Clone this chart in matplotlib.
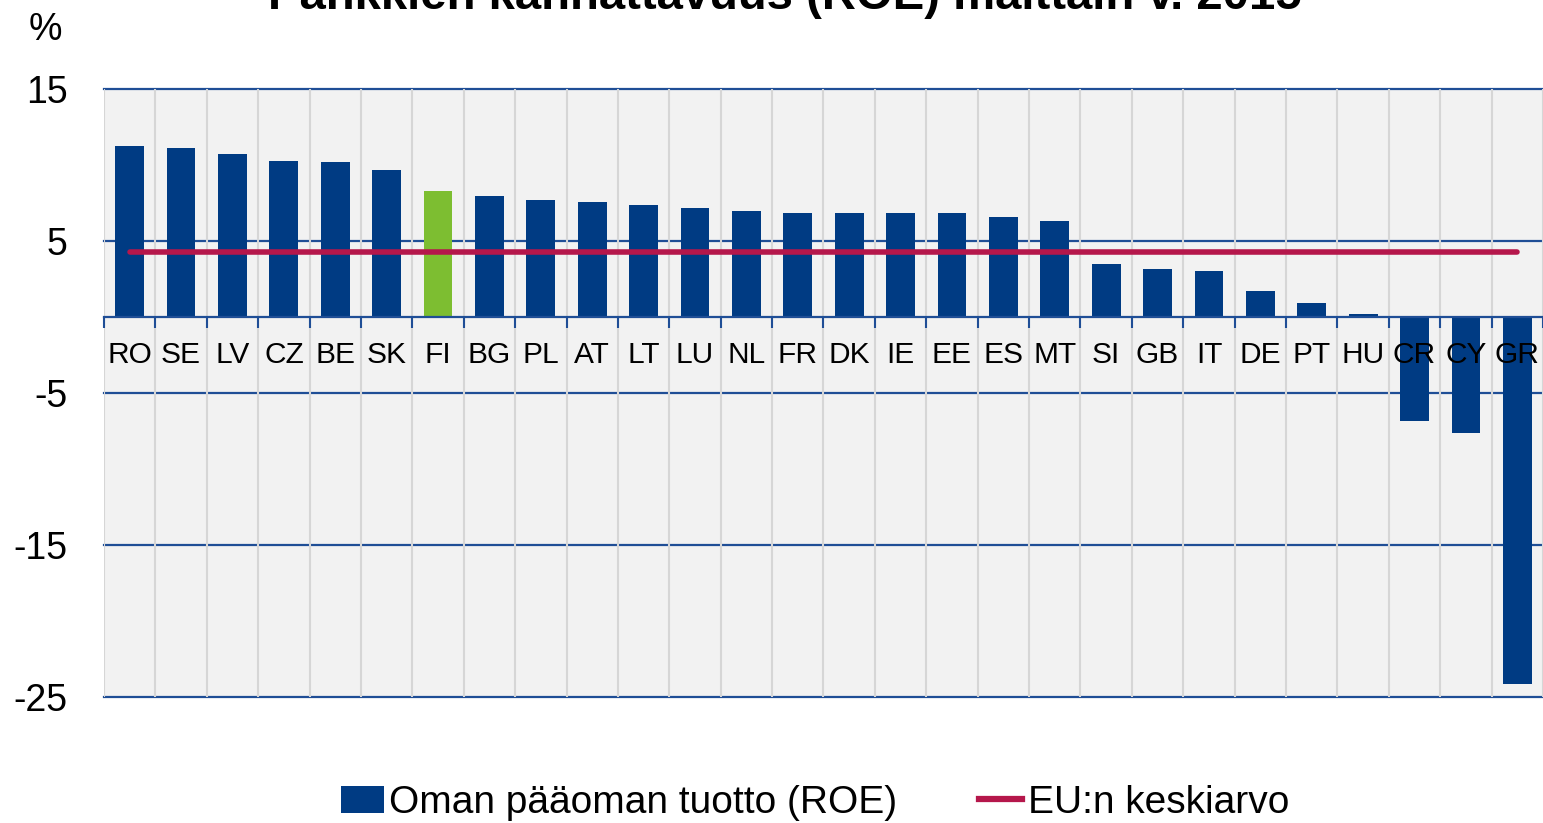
import matplotlib
matplotlib.use('Agg')
import matplotlib.pyplot as plt
from matplotlib.lines import Line2D
from matplotlib.patches import Patch
import numpy as np

plt.rcParams['font.family'] = ['Liberation Sans', 'DejaVu Sans']

countries = ['RO', 'SE', 'LV', 'CZ', 'BE', 'SK', 'FI', 'BG', 'PL', 'AT', 'LT', 'LU', 'NL', 'FR',
             'DK', 'IE', 'EE', 'ES', 'MT', 'SI', 'GB', 'IT', 'DE', 'PT', 'HU', 'CR', 'CY', 'GR']
roe = [11.25, 11.1, 10.7, 10.25, 10.2, 9.65, 8.3, 7.95, 7.7, 7.55, 7.4, 7.2, 7.0, 6.85,
       6.85, 6.85, 6.85, 6.6, 6.3, 3.5, 3.15, 3.05, 1.7, 0.9, 0.2, -6.85, -7.6, -24.15]
eu_avg = 4.3
highlight = 'FI'

blue = '#003B83'
green = '#7DBE31'
red = '#B5174B'
gridblue = '#1F4E96'

fig = plt.figure(figsize=(15.43, 8.23), dpi=100)
ax = fig.add_axes([104 / 1543, 1 - 697 / 823, 1 - 104 / 1543, (697 - 89) / 823])
ax.set_facecolor('#F2F2F2')

x = np.arange(len(countries))
colors = [green if c == highlight else blue for c in countries]
ax.bar(x, roe, width=0.56, color=colors, zorder=3)
ax.plot([x[0], x[-1]], [eu_avg, eu_avg], color=red, linewidth=4, solid_capstyle='round', zorder=4)

# vertical separators between categories
for b in np.arange(-0.5, len(countries), 1):
    ax.axvline(b, color='#D6D6D6', linewidth=1.5, zorder=0.6)

ax.set_xlim(-0.5, len(countries) - 0.5)
ax.set_ylim(-25, 15)
ax.set_yticks([15, 5, -5, -15, -25])
ax.set_yticklabels(['15', '5', '-5', '-15', '-25'])
ax.tick_params(axis='y', length=0, pad=26, labelsize=27)
ax.yaxis.grid(True, color=gridblue, linewidth=1.6, clip_on=False)
ax.set_axisbelow(True)

ax.set_xticks(x)
ax.set_xticklabels(countries)
ax.set_xticks(np.arange(-0.5, len(countries), 1), minor=True)
ax.tick_params(axis='x', which='major', length=0, pad=17, labelsize=21.5)
ax.tick_params(axis='x', which='minor', length=8, width=1.5, color=gridblue, direction='out')
ax.xaxis.set_zorder(5)

for s in ['top', 'left', 'right']:
    ax.spines[s].set_visible(False)
ax.spines['bottom'].set_position(('data', 0))
ax.spines['bottom'].set_color(gridblue)
ax.spines['bottom'].set_linewidth(1.6)
ax.spines['bottom'].set_zorder(5)

fig.text(45 / 1543, 1 - 30 / 823, '%', fontsize=27, ha='center', va='center')
fig.text(785 / 1543, 1 - 9 / 823, 'Pankkien kannattavuus (ROE) maittain v. 2015',
         fontsize=34, fontweight='bold', ha='center', va='baseline')

handles = [Patch(facecolor=blue, edgecolor='none'),
           Line2D([0], [0], color=red, linewidth=4.5)]
fig.legend(handles, ['Oman pääoman tuotto (ROE)', 'EU:n keskiarvo'], loc='center',
           bbox_to_anchor=(815 / 1543, 1 - 803 / 823), ncol=2, frameon=False,
           fontsize=28, handlelength=1.1, handletextpad=0.15, columnspacing=2.1)

fig.savefig('out.png', dpi=100)
